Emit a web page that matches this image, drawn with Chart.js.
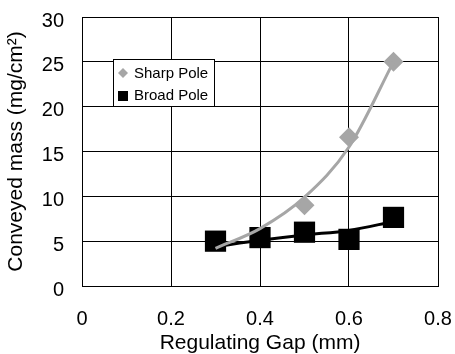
<!DOCTYPE html>
<html>
<head>
<meta charset="utf-8">
<script src="https://cdn.jsdelivr.net/npm/chart.js@4.4.1/dist/chart.umd.min.js"></script>
<style>
  body { margin: 0; background: #fff; }
  #grafico { display: block; }
</style>
</head>
<body>
<canvas id="grafico" width="455" height="354"></canvas>
<script>
// dados
const gapTrend = [0.3, 0.4, 0.5, 0.6, 0.7];
const sharpTrend = [4.2, 6.4, 9.9, 15.5, 25.0];
const broadTrend = [4.4, 5.1, 5.7, 6.2, 7.2];

const sharpGap = [0.5, 0.6, 0.7];
const sharpMass = [9.0, 16.6, 25.0];

const broadGap = [0.3, 0.4, 0.5, 0.6, 0.7];
const broadMass = [5.0, 5.4, 6.0, 5.2, 7.65];

const xTicks = [0, 0.2, 0.4, 0.6, 0.8];
const yTicks = [0, 5, 10, 15, 20, 25, 30];

const seriesNames = ['Sharp Pole', 'Broad Pole'];

const cinza = '#a6a6a6';
const fonteTxt = "'Liberation Sans', Arial, sans-serif";

function pares(xs, ys) {
  return xs.map((x, i) => ({ x: x, y: ys[i] }));
}

// legenda desenhada dentro da área do gráfico
const legendaInterna = {
  id: 'legendaInterna',
  afterDraw(chart) {
    const ctx = chart.ctx;
    const x0 = 113.5, y0 = 59.5, w = 101, h = 47;
    ctx.save();
    ctx.fillStyle = '#fff';
    ctx.fillRect(x0, y0, w, h);
    ctx.strokeStyle = '#000';
    ctx.lineWidth = 1;
    ctx.strokeRect(x0, y0, w, h);

    // losango
    ctx.fillStyle = cinza;
    ctx.beginPath();
    ctx.moveTo(123, 68); ctx.lineTo(128, 73); ctx.lineTo(123, 78); ctx.lineTo(118, 73);
    ctx.closePath();
    ctx.fill();
    // quadrado
    ctx.fillStyle = '#000';
    ctx.fillRect(118, 91, 10, 10);

    ctx.fillStyle = '#000';
    ctx.font = '15px ' + fonteTxt;
    ctx.textBaseline = 'middle';
    ctx.textAlign = 'left';
    ctx.fillText(seriesNames[0], 134, 74);
    ctx.fillText(seriesNames[1], 134, 96);
    ctx.restore();
  }
};

new Chart(document.getElementById('grafico'), {
  type: 'scatter',
  data: {
    datasets: [
      {
        label: seriesNames[0] + ' trend',
        data: pares(gapTrend, sharpTrend),
        showLine: true,
        borderColor: cinza,
        borderWidth: 3,
        pointRadius: 0,
        cubicInterpolationMode: 'monotone'
      },
      {
        label: seriesNames[1] + ' trend',
        data: pares(gapTrend, broadTrend),
        showLine: true,
        borderColor: '#000',
        borderWidth: 3,
        pointRadius: 0,
        cubicInterpolationMode: 'monotone'
      },
      {
        label: seriesNames[0],
        data: pares(sharpGap, sharpMass),
        pointStyle: 'rectRot',
        pointRadius: 10,
        backgroundColor: cinza,
        borderColor: cinza,
        borderWidth: 0
      },
      {
        label: seriesNames[1],
        data: pares(broadGap, broadMass),
        pointStyle: 'rect',
        pointRadius: 15,
        backgroundColor: '#000',
        borderColor: '#000',
        borderWidth: 0
      }
    ]
  },
  options: {
    responsive: false,
    animation: false,
    devicePixelRatio: 1,
    layout: { padding: { top: 17, right: 17, left: 0, bottom: 0 } },
    plugins: {
      legend: { display: false },
      tooltip: { enabled: false }
    },
    scales: {
      x: {
        type: 'linear',
        min: 0,
        max: 0.8,
        afterBuildTicks: scale => { scale.ticks = xTicks.map(v => ({ value: v })); },
        afterFit: scale => {
          scale.height = 68;
          scale.paddingLeft = 0;
          scale.paddingRight = 0;
        },
        ticks: {
          color: '#000',
          padding: 21,
          font: { family: fonteTxt, size: 20 },
          callback: v => v === 0 ? '0' : Number(v).toFixed(1)
        },
        grid: { color: '#000', lineWidth: 1, drawTicks: false },
        border: { color: '#000', width: 1 },
        title: {
          display: true,
          text: 'Regulating Gap (mm)',
          color: '#000',
          font: { family: fonteTxt, size: 21, lineHeight: 1 },
          padding: { top: 0, bottom: 0 }
        }
      },
      y: {
        type: 'linear',
        min: 0,
        max: 30,
        afterBuildTicks: scale => { scale.ticks = yTicks.map(v => ({ value: v })); },
        afterFit: scale => {
          scale.width = 82;
          scale.paddingTop = 0;
          scale.paddingBottom = 0;
        },
        ticks: {
          color: '#000',
          padding: 18,
          labelOffset: 4,
          font: { family: fonteTxt, size: 20 }
        },
        grid: { color: '#000', lineWidth: 1, drawTicks: false },
        border: { color: '#000', width: 1 },
        title: {
          display: true,
          text: 'Conveyed mass (mg/cm²)',
          color: '#000',
          font: { family: fonteTxt, size: 21, lineHeight: 1 },
          padding: { top: 6, bottom: 0 }
        }
      }
    }
  },
  plugins: [legendaInterna]
});
</script>
</body>
</html>
